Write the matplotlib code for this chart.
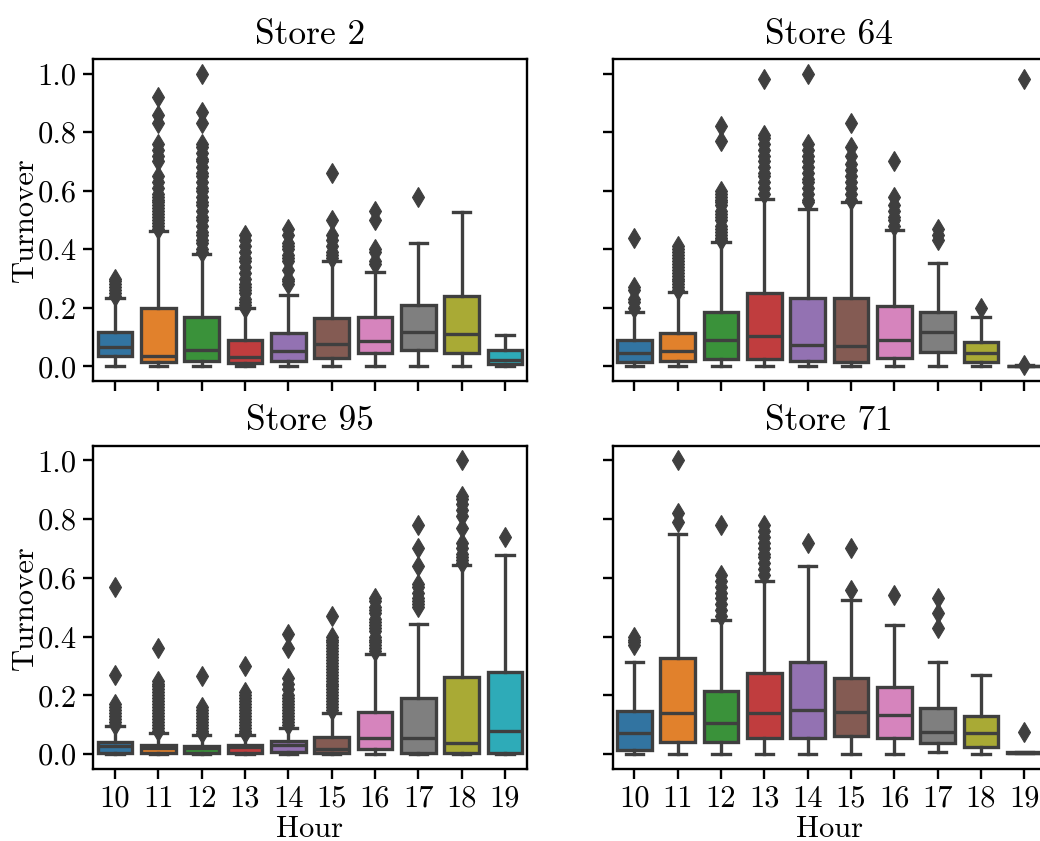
import matplotlib
matplotlib.use("Agg")
import matplotlib.pyplot as plt

plt.rcParams['font.family'] = ['cmr10', 'DejaVu Serif']
plt.rcParams['axes.formatter.use_mathtext'] = True

hours = [10, 11, 12, 13, 14, 15, 16, 17, 18, 19]
palette = ['#3274a1', '#e1812c', '#3a923a', '#c03d3e', '#9372b2',
           '#845b53', '#d684bd', '#7f7f7f', '#a9aa35', '#2eabb8']

# ---- Store 2 ----
s2_lo = [0.0, 0.0, 0.0, 0.0, 0.0, 0.0, 0.0, 0.0, 0.0, 0.0]
s2_q1 = [0.034, 0.015, 0.017, 0.011, 0.017, 0.028, 0.045, 0.055, 0.045, 0.008]
s2_med = [0.066, 0.036, 0.055, 0.032, 0.051, 0.076, 0.085, 0.119, 0.111, 0.023]
s2_q3 = [0.119, 0.199, 0.168, 0.089, 0.114, 0.165, 0.168, 0.208, 0.241, 0.055]
s2_hi = [0.235, 0.462, 0.384, 0.199, 0.245, 0.361, 0.324, 0.423, 0.528, 0.108]
s2_fliers = [
    [0.24, 0.25, 0.26, 0.27, 0.28, 0.29, 0.30],
    [0.47, 0.48, 0.49, 0.50, 0.51, 0.52, 0.53, 0.54, 0.55, 0.56, 0.57, 0.58,
     0.59, 0.61, 0.63, 0.65, 0.70, 0.72, 0.74, 0.76, 0.83, 0.86, 0.92],
    [0.39, 0.40, 0.42, 0.43, 0.45, 0.46, 0.48, 0.50, 0.51, 0.53, 0.55, 0.56,
     0.58, 0.60, 0.61, 0.63, 0.65, 0.66, 0.68, 0.70, 0.71, 0.73, 0.75, 0.76,
     0.83, 0.87, 1.0],
    [0.20, 0.21, 0.22, 0.23, 0.25, 0.26, 0.27, 0.28, 0.30, 0.32, 0.34, 0.36,
     0.37, 0.39, 0.41, 0.43, 0.45],
    [0.28, 0.29, 0.30, 0.33, 0.36, 0.37, 0.38, 0.40, 0.41, 0.42, 0.45, 0.47],
    [0.37, 0.38, 0.39, 0.41, 0.43, 0.45, 0.50, 0.66],
    [0.35, 0.36, 0.39, 0.40, 0.50, 0.53],
    [0.58],
    [],
    [],
]

# ---- Store 64 ----
s64_lo = [0.0, 0.0, 0.0, 0.0, 0.0, 0.0, 0.0, 0.0, 0.0, 0.0]
s64_q1 = [0.014, 0.017, 0.025, 0.025, 0.017, 0.015, 0.028, 0.048, 0.014, 0.0]
s64_med = [0.045, 0.051, 0.089, 0.105, 0.074, 0.070, 0.089, 0.116, 0.045, 0.0]
s64_q3 = [0.089, 0.114, 0.185, 0.252, 0.235, 0.233, 0.207, 0.185, 0.082, 0.002]
s64_hi = [0.185, 0.253, 0.424, 0.572, 0.538, 0.560, 0.466, 0.352, 0.168, 0.003]
s64_fliers = [
    [0.20, 0.22, 0.23, 0.26, 0.27, 0.44],
    [0.26, 0.27, 0.28, 0.29, 0.30, 0.31, 0.32, 0.33, 0.34, 0.35, 0.36, 0.37,
     0.38, 0.39, 0.40, 0.41],
    [0.43, 0.44, 0.45, 0.46, 0.47, 0.48, 0.50, 0.51, 0.52, 0.53, 0.55, 0.56,
     0.57, 0.58, 0.59, 0.60, 0.77, 0.82],
    [0.59, 0.61, 0.63, 0.65, 0.66, 0.68, 0.70, 0.72, 0.74, 0.76, 0.78, 0.79,
     0.98],
    [0.56, 0.57, 0.59, 0.61, 0.63, 0.64, 0.66, 0.68, 0.70, 0.72, 0.74, 0.76,
     1.0],
    [0.57, 0.59, 0.61, 0.63, 0.65, 0.67, 0.69, 0.72, 0.75, 0.83],
    [0.48, 0.50, 0.51, 0.53, 0.55, 0.58, 0.70],
    [0.43, 0.45, 0.47],
    [0.20],
    [0.005, 0.98],
]

# ---- Store 95 ----
s95_lo = [0.0, 0.0, 0.0, 0.0, 0.0, 0.0, 0.0, 0.0, 0.0, 0.0]
s95_q1 = [0.005, 0.005, 0.005, 0.005, 0.008, 0.005, 0.016, 0.005, 0.005, 0.005]
s95_med = [0.027, 0.022, 0.019, 0.023, 0.031, 0.018, 0.053, 0.056, 0.036, 0.078]
s95_q3 = [0.042, 0.031, 0.028, 0.031, 0.044, 0.059, 0.144, 0.190, 0.262, 0.281]
s95_hi = [0.096, 0.073, 0.065, 0.065, 0.090, 0.139, 0.341, 0.444, 0.643, 0.677]
s95_fliers = [
    [0.10, 0.11, 0.12, 0.13, 0.14, 0.15, 0.16, 0.17, 0.27, 0.57],
    [0.08, 0.09, 0.10, 0.11, 0.12, 0.13, 0.14, 0.15, 0.16, 0.17, 0.18, 0.19,
     0.20, 0.21, 0.22, 0.23, 0.24, 0.25, 0.36],
    [0.07, 0.08, 0.09, 0.10, 0.11, 0.12, 0.13, 0.14, 0.15, 0.16, 0.265],
    [0.07, 0.08, 0.09, 0.10, 0.11, 0.12, 0.13, 0.14, 0.15, 0.16, 0.17, 0.18,
     0.19, 0.20, 0.21, 0.30],
    [0.10, 0.11, 0.12, 0.13, 0.14, 0.15, 0.16, 0.17, 0.18, 0.19, 0.20, 0.22,
     0.24, 0.26, 0.36, 0.41],
    [0.15, 0.16, 0.17, 0.18, 0.19, 0.20, 0.21, 0.22, 0.23, 0.24, 0.25, 0.26,
     0.27, 0.28, 0.29, 0.30, 0.31, 0.32, 0.33, 0.34, 0.35, 0.36, 0.37, 0.38,
     0.39, 0.40, 0.47],
    [0.35, 0.36, 0.37, 0.38, 0.39, 0.40, 0.42, 0.43, 0.44, 0.45, 0.46, 0.48,
     0.49, 0.50, 0.52, 0.53],
    [0.50, 0.51, 0.52, 0.53, 0.55, 0.57, 0.58, 0.64, 0.70, 0.78],
    [0.65, 0.66, 0.67, 0.68, 0.70, 0.72, 0.77, 0.81, 0.83, 0.85, 0.87, 0.88,
     1.0],
    [0.74],
]

# ---- Store 71 ----
s71_lo = [0.0, 0.0, 0.0, 0.0, 0.0, 0.0, 0.0, 0.008, 0.0, 0.003]
s71_q1 = [0.014, 0.040, 0.042, 0.056, 0.056, 0.061, 0.056, 0.036, 0.025, 0.003]
s71_med = [0.073, 0.139, 0.107, 0.139, 0.150, 0.142, 0.133, 0.076, 0.073, 0.004]
s71_q3 = [0.147, 0.327, 0.213, 0.275, 0.315, 0.258, 0.228, 0.158, 0.130, 0.006]
s71_hi = [0.312, 0.750, 0.457, 0.588, 0.639, 0.526, 0.440, 0.312, 0.270, 0.006]
s71_fliers = [
    [0.37, 0.38, 0.39, 0.40],
    [0.79, 0.82, 1.0],
    [0.47, 0.49, 0.51, 0.53, 0.55, 0.57, 0.59, 0.61, 0.78],
    [0.61, 0.63, 0.65, 0.67, 0.68, 0.70, 0.72, 0.74, 0.76, 0.78],
    [0.72],
    [0.56, 0.70],
    [0.54],
    [0.43, 0.48, 0.53],
    [],
    [0.075],
]

stores = [
    ("Store 2", s2_lo, s2_q1, s2_med, s2_q3, s2_hi, s2_fliers),
    ("Store 64", s64_lo, s64_q1, s64_med, s64_q3, s64_hi, s64_fliers),
    ("Store 95", s95_lo, s95_q1, s95_med, s95_q3, s95_hi, s95_fliers),
    ("Store 71", s71_lo, s71_q1, s71_med, s71_q3, s71_hi, s71_fliers),
]

W, H = 1040, 841
fig = plt.figure(figsize=(W / 100, H / 100), dpi=100)

# axes rectangles in pixels: left, top, width, height
rects = [(93.3, 59, 433.3, 322), (612.7, 59, 433.3, 322),
         (93.3, 445.7, 433.3, 323), (612.7, 445.7, 433.3, 323)]

edge = '#3f3f3f'
lw = 2.4
fs = 22

for i, (name, lo, q1, med, q3, hi, fl) in enumerate(stores):
    l, t, w, h = rects[i]
    ax = fig.add_axes([l / W, 1 - (t + h) / H, w / W, h / H])
    stats = []
    for k in range(len(hours)):
        stats.append(dict(whislo=lo[k], q1=q1[k], med=med[k], q3=q3[k],
                          whishi=hi[k], fliers=fl[k]))
    bp = ax.bxp(stats, positions=range(len(hours)), widths=0.8,
                patch_artist=True, showfliers=True,
                boxprops=dict(edgecolor=edge, linewidth=lw),
                whiskerprops=dict(color=edge, linewidth=lw),
                capprops=dict(color=edge, linewidth=lw),
                medianprops=dict(color=edge, linewidth=lw),
                flierprops=dict(marker='d', markersize=10.5,
                                markerfacecolor=edge, markeredgecolor=edge,
                                markeredgewidth=0.8))
    for patch, c in zip(bp['boxes'], palette):
        patch.set_facecolor(c)

    ax.set_xlim(-0.5, len(hours) - 0.5)
    ax.set_ylim(-0.05, 1.05)
    ax.set_yticks([0.0, 0.2, 0.4, 0.6, 0.8, 1.0])
    ax.set_xticks(range(len(hours)))
    ax.set_xticklabels([str(x) for x in hours])
    ax.set_yticklabels(['0.0', '0.2', '0.4', '0.6', '0.8', '1.0'])
    ax.tick_params(labelsize=fs, length=7, width=1.7, pad=5)
    for sp in ax.spines.values():
        sp.set_linewidth(1.7)
    ax.set_title(name, fontsize=25.5, pad=11)

    if i % 2 == 0:
        ax.set_ylabel('Turnover', fontsize=fs, labelpad=-1)
    else:
        ax.tick_params(labelleft=False)
    if i >= 2:
        ax.set_xlabel('Hour', fontsize=fs, labelpad=2)
    else:
        ax.tick_params(labelbottom=False)

fig.savefig('out.png', dpi=100)
